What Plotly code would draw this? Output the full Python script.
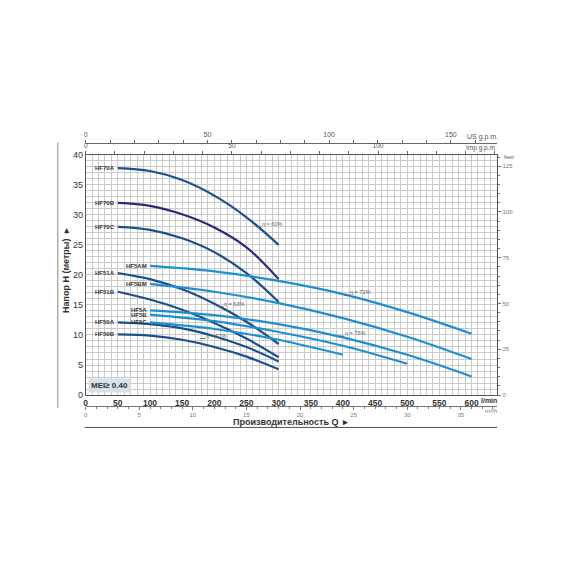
import plotly.graph_objects as go

# ---------------- data ----------------
q_dark = [50, 100, 150, 200, 250, 300]
HF70A = [37.8, 37.3, 35.8, 33.2, 29.6, 25.0]
HF70B = [32.0, 31.5, 30.1, 27.9, 24.6, 19.3]
HF70C = [28.0, 27.5, 26.1, 23.8, 20.3, 15.5]
HF51A = [20.3, 19.3, 17.6, 15.2, 12.2, 8.5]
HF51B = [17.2, 15.9, 14.2, 12.0, 9.4, 6.3]
HF50A = [12.1, 11.8, 11.1, 9.8, 8.0, 5.6]
HF50B = [10.1, 9.9, 9.2, 8.0, 6.4, 4.3]

q_600 = [100, 200, 300, 400, 500, 600]
HF5AM = [21.5, 20.6, 19.0, 16.8, 13.8, 10.2]
HF5BM = [18.5, 17.2, 15.3, 12.8, 9.7, 6.0]
HF5A = [14.1, 13.3, 11.8, 9.6, 6.7, 3.1]
q_500 = [100, 200, 300, 400, 500]
HF5B = [13.4, 12.3, 10.5, 8.2, 5.2]
q_400 = [100, 200, 300, 400]
HF5C = [12.1, 11.0, 9.2, 6.7]

eff_labels = ["η = 60%", "η = 72%", "η = 63%", "η = 67%", "η = 76%"]
eff_q = [269, 406, 210, 182, 398]
eff_h = [28.0, 16.6, 14.7, 9.4, 9.8]

q_ticks = [0, 50, 100, 150, 200, 250, 300, 350, 400, 450, 500, 550, 600]
h_ticks = [0, 5, 10, 15, 20, 25, 30, 35, 40]
m3h_ticks = [0, 5, 10, 15, 20, 25, 30, 35]
usgpm_ticks = [0, 50, 100, 150]
impgpm_ticks = [0, 50, 100]
feet_ticks = [0, 25, 50, 75, 100, 125]

Q_MAX = 640
H_MAX = 40

DARK = "#1d4f8c"
PURPLE = "#2c2a78"
LIGHT = "#1e8fd0"

curves = [
    ("HF70A", q_dark, HF70A, DARK),
    ("HF70B", q_dark, HF70B, PURPLE),
    ("HF70C", q_dark, HF70C, DARK),
    ("HF51A", q_dark, HF51A, DARK),
    ("HF51B", q_dark, HF51B, DARK),
    ("HF50A", q_dark, HF50A, DARK),
    ("HF50B", q_dark, HF50B, DARK),
    ("HF5AM", q_600, HF5AM, LIGHT),
    ("HF5BM", q_600, HF5BM, LIGHT),
    ("HF5A", q_600, HF5A, LIGHT),
    ("HF5B", q_500, HF5B, LIGHT),
    ("HF5C", q_400, HF5C, LIGHT),
]

W = H = 570
def px_x(p):
    return p / W
def px_y(p):
    return 1 - p / H

FONT = "Liberation Sans Narrow, Liberation Sans, Arial, sans-serif"

fig = go.Figure()
for name, qs, hs, col in curves:
    fig.add_trace(go.Scatter(x=qs, y=hs, mode="lines", name=name,
                             line=dict(color=col, width=2.2, shape="spline", smoothing=1.0),
                             showlegend=False, hoverinfo="skip"))

fig.add_trace(go.Scatter(x=eff_q, y=eff_h, mode="markers",
                         marker=dict(symbol="line-ew", size=4, line=dict(color="#666", width=1)),
                         showlegend=False, hoverinfo="skip"))

annotations = []
for name, qs, hs, col in curves:
    annotations.append(dict(x=qs[0], y=hs[0], xref="x", yref="y", text="<b>" + name + "</b>",
                            showarrow=False, xanchor="right", yanchor="middle", xshift=-1,
                            font=dict(size=6, color="#333", family=FONT)))
for t, q, h in zip(eff_labels, eff_q, eff_h):
    annotations.append(dict(x=q, y=h, xref="x", yref="y", text=t, showarrow=False,
                            xanchor="left", yanchor="bottom", xshift=1, yshift=-2,
                            font=dict(size=5.5, color="#666", family=FONT)))

# unit labels
annotations += [
    dict(x=px_x(499), y=px_y(403), xref="paper", yref="paper", text="<b>l/min</b>", showarrow=False,
         xanchor="right", yanchor="middle", font=dict(size=7, color="#333", family=FONT)),
    dict(x=px_x(499), y=px_y(413), xref="paper", yref="paper", text="m³/h", showarrow=False,
         xanchor="right", yanchor="middle", font=dict(size=6, color="#777", family=FONT)),
    dict(x=px_x(500), y=px_y(134), xref="paper", yref="paper", text="US g.p.m.", showarrow=False,
         xanchor="right", yanchor="middle", font=dict(size=7, color="#555", family=FONT)),
    dict(x=px_x(499), y=px_y(146), xref="paper", yref="paper", text="Imp g.p.m.", showarrow=False,
         xanchor="right", yanchor="middle", font=dict(size=6.5, color="#555", family=FONT)),
    dict(x=px_x(502), y=px_y(155), xref="paper", yref="paper", text="feet", showarrow=False,
         xanchor="left", yanchor="middle", font=dict(size=6, color="#666", family=FONT)),
    dict(x=px_x(290), y=px_y(424), xref="paper", yref="paper", text="<b>Производительность Q  ▸</b>",
         showarrow=False, xanchor="center", yanchor="middle", font=dict(size=9, color="#333", family=FONT)),
    dict(x=px_x(64), y=px_y(270), xref="paper", yref="paper", text="<b>Напор H (метры)  ▸</b>",
         showarrow=False, xanchor="center", yanchor="middle", textangle=-90,
         font=dict(size=9, color="#333", family=FONT)),
    dict(x=px_x(86), y=px_y(387), xref="paper", yref="paper", text="<b>MEI≥ 0.40</b>",
         showarrow=False, xanchor="left", yanchor="middle", bgcolor="#d6e1ec",
         borderpad=2, font=dict(size=8, color="#333", family=FONT)),
]

shapes = [
    dict(type="line", xref="paper", yref="paper", x0=px_x(83), x1=px_x(497),
         y0=px_y(430), y1=px_y(430), line=dict(color="#555", width=1)),
    dict(type="line", xref="paper", yref="paper", x0=px_x(56), x1=px_x(56),
         y0=px_y(140), y1=px_y(410), line=dict(color="#888", width=1)),
]

xdom = [px_x(84), px_x(497)]
ydom = [px_y(397), px_y(152.5)]
GRID = "#cbcbcb"

fig.update_layout(
    width=W, height=H,
    margin=dict(l=0, r=0, t=0, b=0, pad=0),
    paper_bgcolor="white", plot_bgcolor="white",
    font=dict(family=FONT, color="#333"),
    annotations=annotations, shapes=shapes,
    xaxis=dict(domain=xdom, range=[0, Q_MAX], tickvals=q_ticks, showgrid=True, gridcolor=GRID,
               gridwidth=1, minor=dict(dtick=10, showgrid=True, gridcolor=GRID, gridwidth=1),
               showline=True, linecolor="#555", linewidth=1, mirror=True, ticks="",
               tickfont=dict(size=8.5, color="#333", weight="bold"), zeroline=False, anchor="y"),
    yaxis=dict(domain=ydom, range=[0, H_MAX], tickvals=h_ticks, showgrid=True, gridcolor=GRID,
               gridwidth=1, minor=dict(dtick=1, showgrid=True, gridcolor=GRID, gridwidth=1),
               showline=True, linecolor="#555", linewidth=1, mirror=True, ticks="",
               tickfont=dict(size=9, color="#333"), zeroline=False, anchor="x"),
    xaxis2=dict(overlaying="x", anchor="free", position=px_y(408), side="bottom",
                range=[0, Q_MAX * 0.06], tickvals=m3h_ticks, showgrid=False, zeroline=False,
                showline=True, linecolor="#777", linewidth=1, ticks="outside", ticklen=3,
                tickcolor="#777", minor=dict(dtick=1, ticks="outside", ticklen=2, tickcolor="#777"),
                tickfont=dict(size=6, color="#777")),
    xaxis3=dict(overlaying="x", anchor="free", position=px_y(140), side="top",
                range=[0, Q_MAX / 3.78541], tickvals=usgpm_ticks, showgrid=False, zeroline=False,
                showline=True, linecolor="#666", linewidth=1, ticks="outside", ticklen=3,
                tickcolor="#666", minor=dict(dtick=10, ticks="outside", ticklen=3, tickcolor="#666"),
                tickfont=dict(size=7, color="#555")),
    xaxis4=dict(overlaying="x", anchor="y", side="top",
                range=[0, Q_MAX / 4.54609], tickvals=impgpm_ticks, showgrid=False, zeroline=False,
                showline=False, ticks="outside", ticklen=3,
                tickcolor="#666", minor=dict(dtick=10, ticks="outside", ticklen=3, tickcolor="#666"),
                tickfont=dict(size=6.5, color="#555")),
    yaxis2=dict(overlaying="y", anchor="x", side="right",
                range=[0, H_MAX / 0.3048], tickvals=feet_ticks, showgrid=False, zeroline=False,
                showline=False, ticks="outside", ticklen=3, tickcolor="#777",
                minor=dict(dtick=5, ticks="outside", ticklen=2, tickcolor="#777"),
                tickfont=dict(size=6, color="#777")),
)

# invisible helpers so the secondary axes render
fig.add_trace(go.Scatter(x=[0], y=[0], xaxis="x2", yaxis="y", mode="markers",
                         marker=dict(opacity=0), showlegend=False, hoverinfo="skip"))
fig.add_trace(go.Scatter(x=[0], y=[0], xaxis="x3", yaxis="y", mode="markers",
                         marker=dict(opacity=0), showlegend=False, hoverinfo="skip"))
fig.add_trace(go.Scatter(x=[0], y=[0], xaxis="x4", yaxis="y", mode="markers",
                         marker=dict(opacity=0), showlegend=False, hoverinfo="skip"))
fig.add_trace(go.Scatter(x=[0], y=[0], xaxis="x", yaxis="y2", mode="markers",
                         marker=dict(opacity=0), showlegend=False, hoverinfo="skip"))

fig.write_html("out.html", config={"displayModeBar": False},
               post_script="document.body.style.margin='0';")
